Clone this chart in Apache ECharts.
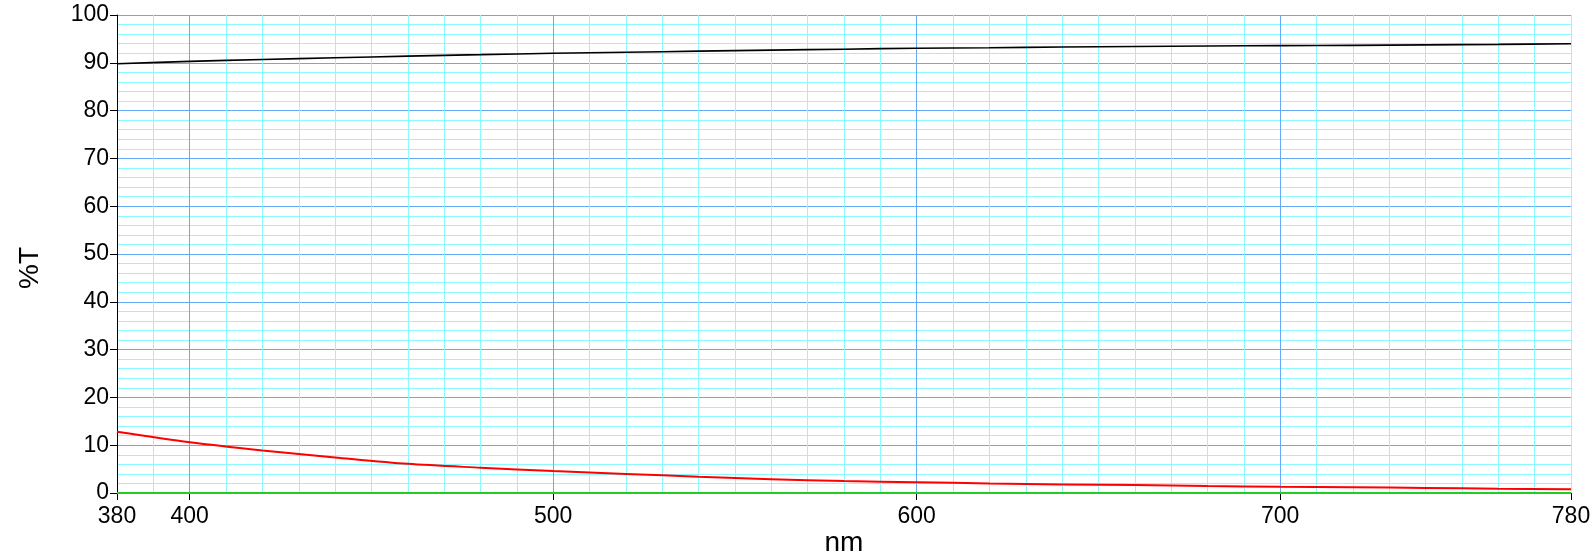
<!DOCTYPE html>
<html>
<head>
<meta charset="utf-8">
<script src="https://cdn.jsdelivr.net/npm/echarts@6/dist/echarts.min.js"></script>
<style>
html,body{margin:0;padding:0;background:#fff;}
#c{width:1596px;height:556px;}
</style>
</head>
<body>
<div id="c"></div>
<script>
const wavelengths = [380,400,420,440,460,480,500,520,540,560,580,600,620,640,660,680,700,720,740,760,780];
const blackT = [89.8,90.3,90.7,91.05,91.4,91.7,92.0,92.2,92.45,92.65,92.85,93.05,93.15,93.3,93.4,93.5,93.6,93.65,93.75,93.85,94.0];
const redT = [12.8,10.6,8.9,7.45,6.1,5.3,4.6,4.0,3.4,2.9,2.5,2.25,2.0,1.8,1.65,1.45,1.3,1.2,1.05,0.9,0.8];
const greenT = [0,0,0,0,0,0,0,0,0,0,0,0,0,0,0,0,0,0,0,0,0];
const xTickValues = [380,400,500,600,700,780];
const xName = 'nm';
const yName = '%T';

const FONT = 'Liberation Sans, Arial, sans-serif';
const BLUE = '#66aaf6';
const CYAN = '#8cf8ff';

function pairs(vals){ return wavelengths.map((w,i)=>[w, vals[i]]); }

const chart = echarts.init(document.getElementById('c'), null, {renderer:'canvas'});
const gridColors = [CYAN, CYAN, BLUE, CYAN, CYAN, CYAN, CYAN, CYAN, CYAN, CYAN];

chart.setOption({
  animation:false,
  backgroundColor:'#fff',
  grid:{left:117, right:25, top:15, bottom:63, containLabel:false},
  xAxis:[{
    type:'value', min:380, max:780,
    axisLine:{show:true, onZero:false, lineStyle:{color:'#000', width:1}},
    axisTick:{show:true, length:7, customValues:xTickValues, lineStyle:{color:'#000'}},
    axisLabel:{customValues:xTickValues, color:'#000', fontFamily:FONT, fontSize:23, margin:12, showMinLabel:true, showMaxLabel:true},
    splitLine:{show:false}
  },{
    type:'value', min:380, max:780, interval:10, position:'bottom',
    axisLine:{show:false}, axisTick:{show:false}, axisLabel:{show:false},
    splitLine:{show:true, lineStyle:{color:gridColors, width:1}}
  }],
  yAxis:{
    type:'value', min:0, max:100, interval:10,
    axisLine:{show:true, lineStyle:{color:'#000', width:1}},
    axisTick:{show:true, length:7, lineStyle:{color:'#000'}},
    axisLabel:{color:'#000', fontFamily:FONT, fontSize:23, margin:8},
    splitLine:{show:true, lineStyle:{color:BLUE, width:1}},
    minorTick:{show:false, splitNumber:5},
    minorSplitLine:{show:true, lineStyle:{color:CYAN, width:1}}
  },
  graphic:[
    {type:'text', x:844, y:543, style:{text:xName, font:'28px '+FONT, fill:'#000', textAlign:'center', textVerticalAlign:'middle'}},
    {type:'text', rotation:Math.PI/2, x:30, y:268, style:{text:yName, font:'28px '+FONT, fill:'#000', textAlign:'center', textVerticalAlign:'middle'}}
  ],
  series:[
    {type:'line', data:pairs(greenT), showSymbol:false, lineStyle:{color:'#22cc22', width:2}, z:3},
    {type:'line', data:pairs(blackT), showSymbol:false, smooth:0.3, lineStyle:{color:'#000', width:1.6}, z:4},
    {type:'line', data:pairs(redT), showSymbol:false, smooth:0.3, lineStyle:{color:'#ff0000', width:2}, z:4}
  ]
});
</script>
</body>
</html>
